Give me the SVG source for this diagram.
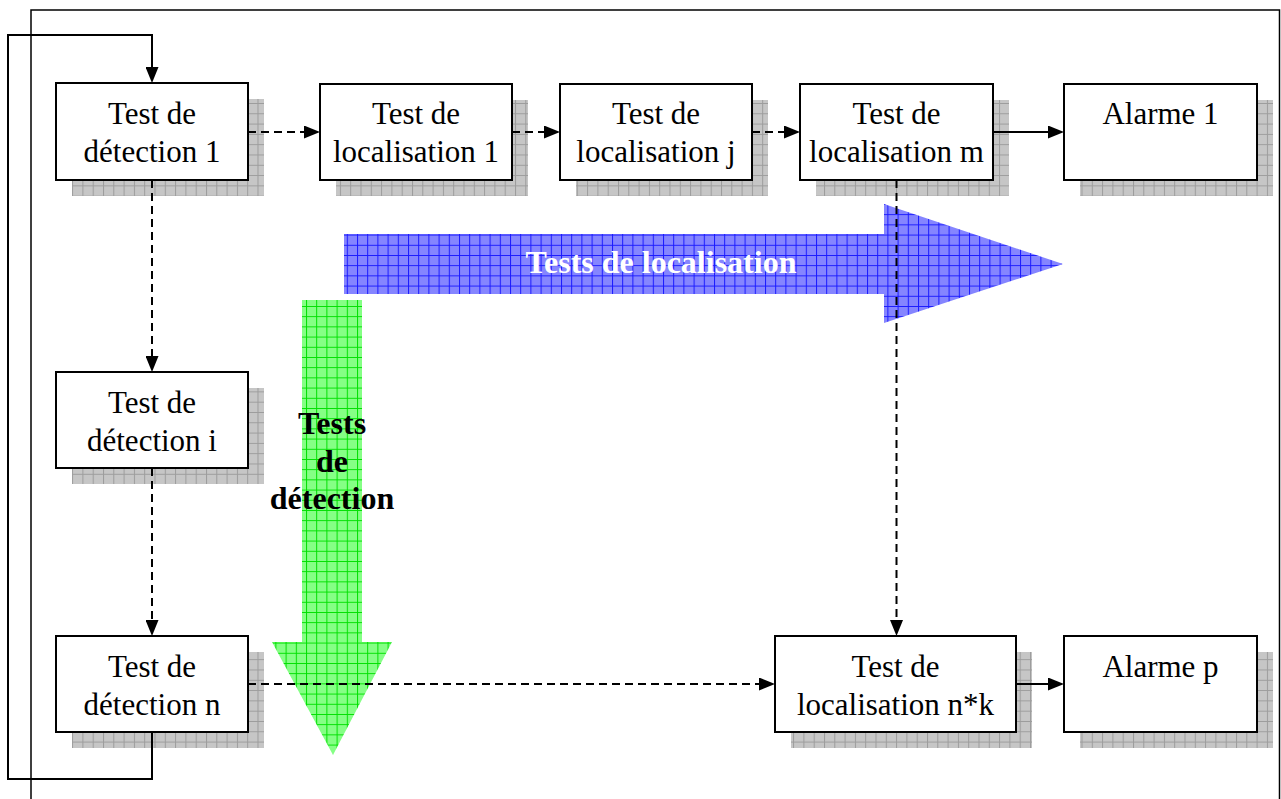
<svg xmlns="http://www.w3.org/2000/svg" width="1281" height="799" viewBox="0 0 1281 799">
<style>
.box{fill:#fff;stroke:#000;stroke-width:2}
.sh{fill:url(#greyGrid);stroke:none}
.t{font-family:"Liberation Serif","Times New Roman",serif;font-size:31px;fill:#000;text-anchor:middle}
.b{font-family:"Liberation Serif","Times New Roman",serif;font-size:32px;font-weight:bold;text-anchor:middle}
.dash{fill:none;stroke:#000;stroke-width:2;stroke-dasharray:8 5}
.solid{fill:none;stroke:#000;stroke-width:2}
</style>
<defs>
<pattern id="greyGrid" patternUnits="userSpaceOnUse" width="10.3" height="10.3">
<rect width="10.3" height="10.3" fill="#c6c6c6"/>
<path d="M0.5,0V10.3M0,0.5H10.3" stroke="#9c9c9c" stroke-width="1"/>
</pattern>
<pattern id="blueGrid" patternUnits="userSpaceOnUse" width="10.2" height="10.2">
<rect width="10.2" height="10.2" fill="#8585ff"/>
<path d="M0.5,0V10.2M0,0.5H10.2" stroke="#1a1aff" stroke-width="1"/>
</pattern>
<pattern id="greenGrid" patternUnits="userSpaceOnUse" width="10.2" height="10.2">
<rect width="10.2" height="10.2" fill="#85ff85"/>
<path d="M0.5,0V10.2M0,0.5H10.2" stroke="#00e000" stroke-width="1"/>
</pattern>
<marker id="ah" viewBox="0 0 16 13" refX="0" refY="6.5" markerWidth="16" markerHeight="13" markerUnits="userSpaceOnUse" orient="auto">
<path d="M0,0L16,6.5L0,13Z" fill="#000" stroke="none"/>
</marker>
</defs>

<g id="frame">
<path d="M31,805V10H1279.5V805" fill="none" stroke="#000" stroke-width="1.5"/>
</g>

<g id="arrow-localisation">
<polygon points="344,234 884,234 884,204 1063,264 884,323 884,294 344,294" fill="url(#blueGrid)"/>
<text x="661" y="273" class="b" fill="#fff">Tests de localisation</text>
</g>
<g id="arrow-detection">
<polygon points="302,300 362,300 362,642 392,642 333,755 272,642 302,642" fill="url(#greenGrid)"/>
<text class="b" fill="#000"><tspan x="332" y="434">Tests</tspan><tspan x="332" y="472">de</tspan><tspan x="332" y="509">détection</tspan></text>
</g>

<g id="det1">
<rect class="sh" x="72" y="99" width="192" height="97"/>
<rect class="box" x="56" y="83" width="192" height="97"/>
<text class="t"><tspan x="152" y="124">Test de</tspan><tspan x="152" y="162">détection 1</tspan></text>
</g>
<g id="loc1">
<rect class="sh" x="336" y="100" width="192" height="96"/>
<rect class="box" x="320" y="84" width="192" height="96"/>
<text class="t"><tspan x="416" y="124">Test de</tspan><tspan x="416" y="162">localisation 1</tspan></text>
</g>
<g id="locj">
<rect class="sh" x="576" y="100" width="192" height="96"/>
<rect class="box" x="560" y="84" width="192" height="96"/>
<text class="t"><tspan x="656" y="124">Test de</tspan><tspan x="656" y="162">localisation j</tspan></text>
</g>
<g id="locm">
<rect class="sh" x="816" y="100" width="193" height="96"/>
<rect class="box" x="800" y="84" width="193" height="96"/>
<text class="t"><tspan x="896.5" y="124">Test de</tspan><tspan x="896.5" y="162">localisation m</tspan></text>
</g>
<g id="alarme1">
<rect class="sh" x="1080" y="100" width="193" height="96"/>
<rect class="box" x="1064" y="84" width="193" height="96"/>
<text class="t" x="1160.5" y="124">Alarme 1</text>
</g>
<g id="deti">
<rect class="sh" x="72" y="388" width="192" height="96"/>
<rect class="box" x="56" y="372" width="192" height="96"/>
<text class="t"><tspan x="152" y="413">Test de</tspan><tspan x="152" y="451">détection i</tspan></text>
</g>
<g id="detn">
<rect class="sh" x="72" y="652" width="192" height="96"/>
<rect class="box" x="56" y="636" width="192" height="96"/>
<text class="t"><tspan x="152" y="677">Test de</tspan><tspan x="152" y="715">détection n</tspan></text>
</g>
<g id="locnk">
<rect class="sh" x="791" y="652" width="241" height="96"/>
<rect class="box" x="775" y="636" width="241" height="96"/>
<text class="t"><tspan x="895.5" y="677">Test de</tspan><tspan x="895.5" y="715">localisation n*k</tspan></text>
</g>
<g id="alarmep">
<rect class="sh" x="1080" y="652" width="193" height="96"/>
<rect class="box" x="1064" y="636" width="193" height="96"/>
<text class="t" x="1160.5" y="677">Alarme p</text>
</g>

<g id="connectors">
<line class="dash" x1="248" y1="132" x2="304" y2="132" marker-end="url(#ah)"/>
<line class="dash" x1="512" y1="132" x2="544" y2="132" marker-end="url(#ah)"/>
<line class="dash" x1="752" y1="132" x2="784" y2="132" marker-end="url(#ah)"/>
<line class="solid" x1="993" y1="132" x2="1048" y2="132" marker-end="url(#ah)"/>
<line class="dash" x1="152" y1="180" x2="152" y2="356" marker-end="url(#ah)"/>
<line class="dash" x1="152" y1="468" x2="152" y2="620" marker-end="url(#ah)"/>
<line class="dash" x1="896.5" y1="180" x2="896.5" y2="620" marker-end="url(#ah)"/>
<line class="dash" x1="248" y1="684" x2="759" y2="684" marker-end="url(#ah)"/>
<line class="solid" x1="1016" y1="684" x2="1048" y2="684" marker-end="url(#ah)"/>
<path class="solid" d="M152,732V779H8V35H152V67" marker-end="url(#ah)"/>
</g>
</svg>
